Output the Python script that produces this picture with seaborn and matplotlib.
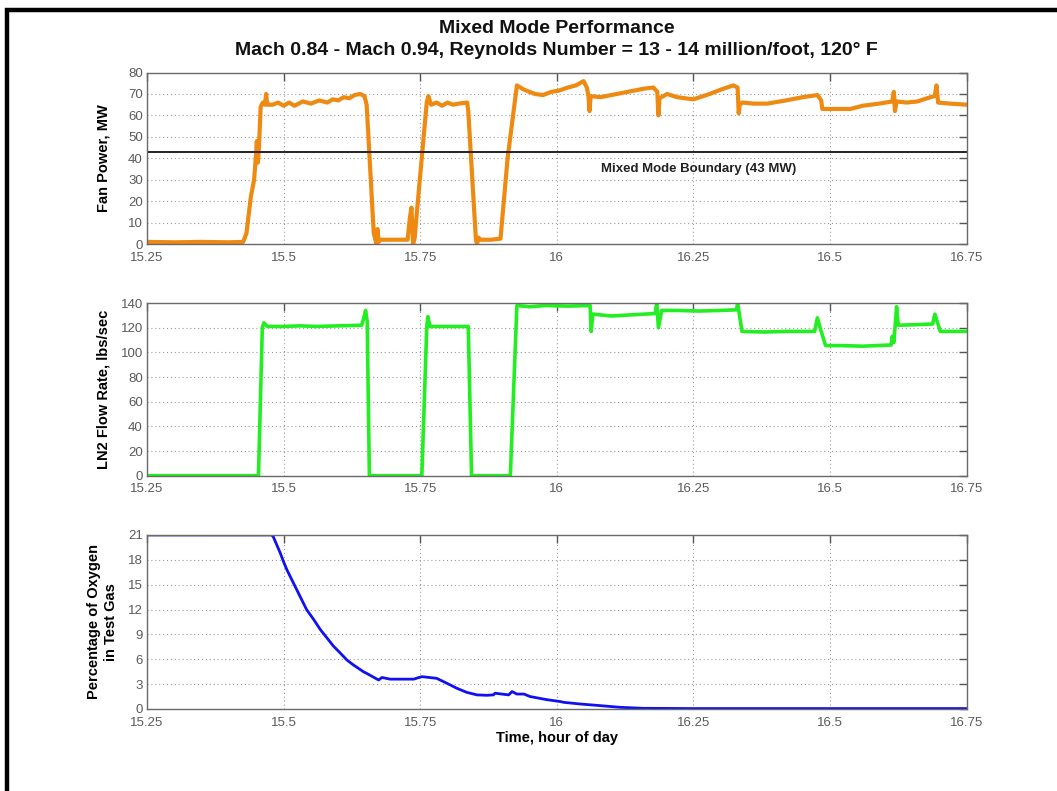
import numpy as np
import pandas as pd
import matplotlib
matplotlib.use("Agg")
import matplotlib.pyplot as plt
from matplotlib.lines import Line2D
import seaborn as sns

# ---------------- data ----------------
fan_time = [15.25, 15.30, 15.35, 15.40, 15.426, 15.432, 15.440, 15.446, 15.449, 15.451,
            15.453, 15.455, 15.458, 15.462, 15.466, 15.468, 15.470, 15.48, 15.49, 15.50,
            15.51, 15.52, 15.535, 15.55, 15.565, 15.58, 15.59, 15.60, 15.61, 15.62,
            15.63, 15.64, 15.648, 15.652, 15.665, 15.670, 15.672, 15.674, 15.678, 15.70,
            15.727, 15.731, 15.734, 15.737, 15.740, 15.744, 15.762, 15.765, 15.770, 15.78,
            15.79, 15.80, 15.81, 15.82, 15.836, 15.838, 15.852, 15.854, 15.857, 15.860,
            15.880, 15.897, 15.91, 15.920, 15.927, 15.94, 15.96, 15.975, 15.99, 16.003,
            16.02, 16.035, 16.049, 16.055, 16.058, 16.060, 16.062, 16.08, 16.10, 16.13,
            16.16, 16.177, 16.184, 16.186, 16.188, 16.202, 16.22, 16.25, 16.28, 16.30,
            16.323, 16.331, 16.333, 16.335, 16.34, 16.36, 16.385, 16.42, 16.45, 16.477,
            16.484, 16.486, 16.492, 16.51, 16.537, 16.56, 16.59, 16.614, 16.617, 16.619,
            16.622, 16.64, 16.66, 16.684, 16.692, 16.695, 16.698, 16.72, 16.75]
fan_mw = [1, 0.8, 1, 0.8, 1, 5, 22, 30, 40, 48,
          38, 46, 64, 66, 65, 70, 65, 65, 66, 64.5,
          66, 64.5, 66.5, 65.5, 67, 66, 67.5, 67, 68.5, 68,
          69.5, 70, 69, 65, 5, 0, 7, 1, 2, 2,
          2, 12, 17, 0, 3, 15, 66, 69, 65, 66,
          64.5, 66, 65, 65.5, 66, 62, 2, 0, 3, 2,
          2, 2.5, 40, 60, 74, 72, 70, 69.5, 71, 71.5,
          73, 74, 76, 73, 69, 62, 69, 68.5, 69.5, 71,
          72.5, 73, 71, 60, 68, 70, 68.5, 67.5, 70, 72,
          74, 73, 61, 65, 66, 65.5, 65.5, 67, 68.5, 69.5,
          67, 63, 63, 63, 63, 64.5, 65.5, 66.5, 71, 62,
          66.5, 66, 66.5, 68.5, 69, 74, 66, 65.5, 65]

ln2_time = [15.25, 15.454, 15.461, 15.464, 15.470, 15.50, 15.53, 15.56, 15.60, 15.643,
            15.648, 15.650, 15.653, 15.657, 15.753, 15.762, 15.764, 15.768, 15.80, 15.838,
            15.844, 15.915, 15.927, 15.95, 15.98, 16.02, 16.061, 16.063, 16.066, 16.10,
            16.14, 16.18, 16.183, 16.186, 16.192, 16.22, 16.26, 16.30, 16.329, 16.331,
            16.339, 16.38, 16.42, 16.472, 16.477, 16.482, 16.492, 16.52, 16.56, 16.612,
            16.614, 16.617, 16.622, 16.625, 16.66, 16.688, 16.692, 16.702, 16.75]
ln2_flow = [0, 0, 120, 124, 121, 121, 121.5, 121, 121.5, 122,
            130, 134, 125, 0, 0, 120, 129, 121, 121, 121,
            0, 0, 138, 137, 138, 137.5, 138, 117, 131, 129.5,
            130.5, 131.5, 140, 120, 134, 134, 133.5, 134, 134.5, 140,
            117, 116.5, 117, 117, 128, 120, 105.5, 105.5, 105, 106,
            113, 108, 137, 122, 122.5, 123, 131, 117, 117]

o2_time = [15.25, 15.478, 15.481, 15.4875, 15.494, 15.4997, 15.506, 15.518, 15.524, 15.536,
           15.542, 15.555, 15.567, 15.579, 15.591, 15.603, 15.616, 15.628, 15.646, 15.652,
           15.671, 15.674, 15.680, 15.695, 15.738, 15.753, 15.780, 15.799, 15.817, 15.8355,
           15.854, 15.872, 15.884, 15.887, 15.912, 15.918, 15.927, 15.940, 15.951, 15.982,
           16.006, 16.013, 16.043, 16.080, 16.116, 16.158, 16.25, 16.50, 16.75]
o2_pct = [21, 21, 20.8, 19.8, 18.8, 17.8, 16.8, 15.2, 14.4, 12.8,
          12.0, 10.8, 9.6, 8.6, 7.6, 6.8, 5.9, 5.3, 4.5, 4.3,
          3.6, 3.5, 3.8, 3.6, 3.6, 3.9, 3.7, 3.1, 2.5, 2.0,
          1.7, 1.65, 1.7, 1.9, 1.7, 2.1, 1.8, 1.8, 1.5, 1.12,
          0.9, 0.8, 0.6, 0.4, 0.2, 0.08, 0.05, 0.05, 0.05]

x_ticks = [15.25, 15.5, 15.75, 16, 16.25, 16.5, 16.75]
x_tick_labels = ["15.25", "15.5", "15.75", "16", "16.25", "16.5", "16.75"]
fan_yticks = [0, 10, 20, 30, 40, 50, 60, 70, 80]
ln2_yticks = [0, 20, 40, 60, 80, 100, 120, 140]
o2_yticks = [0, 3, 6, 9, 12, 15, 18, 21]
boundary_mw = 43

title1 = "Mixed Mode Performance"
title2 = "Mach 0.84 - Mach 0.94, Reynolds Number = 13 - 14 million/foot, 120\u00b0 F"

# ---------------- style ----------------
sns.set_style("white")
plt.rcParams["font.family"] = ["Liberation Sans", "DejaVu Sans"]

fig = plt.figure(figsize=(10.57, 7.91), dpi=100)

L, W = 0.1391, 0.7753
ax1 = fig.add_axes([L, 0.6915, W, 0.2168])
ax2 = fig.add_axes([L, 0.3986, W, 0.2183])
ax3 = fig.add_axes([L, 0.1037, W, 0.2200])

tick_col = "#5a5a5a"

def style(ax, yticks, ylim):
    ax.set_xlim(15.25, 16.75)
    ax.set_ylim(*ylim)
    ax.set_xticks(x_ticks)
    ax.set_xticklabels(x_tick_labels)
    ax.set_yticks(yticks)
    ax.grid(True, linestyle=(0, (1, 2.5)), color="#9a9a9a", linewidth=0.8)
    ax.tick_params(direction="in", length=6, width=1, top=True, right=True,
                   color="#555555", labelcolor=tick_col, labelsize=9.5, pad=3)
    ax.tick_params(axis="x", pad=5.5)
    for s in ax.spines.values():
        s.set_color("#6a6a6a")
        s.set_linewidth(1.0)
        s.set_visible(True)
    ax.set_xlabel("")

fan_df = pd.DataFrame({"t": fan_time, "v": fan_mw})
ln2_df = pd.DataFrame({"t": ln2_time, "v": ln2_flow})
o2_df = pd.DataFrame({"t": o2_time, "v": o2_pct})

sns.lineplot(data=fan_df, x="t", y="v", ax=ax1, color="#EE8A12", linewidth=3.0,
             estimator=None, sort=False)
ax1.axhline(boundary_mw, color="#222222", linewidth=1.4)
sns.lineplot(data=ln2_df, x="t", y="v", ax=ax2, color="#22EE22", linewidth=2.6,
             estimator=None, sort=False)
sns.lineplot(data=o2_df, x="t", y="v", ax=ax3, color="#1010F0", linewidth=2.0,
             estimator=None, sort=False)

style(ax1, fan_yticks, (0, 80))
style(ax2, ln2_yticks, (0, 140))
style(ax3, o2_yticks, (0, 21))

ax1.text(16.26, 35, "Mixed Mode Boundary (43 MW)", ha="center", va="center",
         fontsize=9.5, fontweight="bold", color="#222222")

lab_kw = dict(fontsize=10.5, fontweight="bold", color="black")
ax1.set_ylabel("Fan Power, MW", **lab_kw)
ax2.set_ylabel("LN2 Flow Rate, lbs/sec", **lab_kw)
ax3.set_ylabel("Percentage of Oxygen\nin Test Gas", linespacing=1.2, **lab_kw)
ax1.yaxis.set_label_coords(-0.044, 0.5)
ax2.yaxis.set_label_coords(-0.044, 0.5)
ax3.yaxis.set_label_coords(-0.036, 0.5)

fig.text(0.5265, 0.067, "Time, hour of day", ha="center", va="center", **lab_kw)
fig.text(0.5265, 0.9636, title1, ha="center", va="center", fontsize=14,
         fontweight="bold", color="#111111")
fig.text(0.5265, 0.9358, title2, ha="center", va="center", fontsize=14,
         fontweight="bold", color="#111111")

# outer frame (top and left edges of the original bordered figure)
fig.add_artist(Line2D([5 / 1057, 1.0], [1 - 10 / 791, 1 - 10 / 791],
                      transform=fig.transFigure, color="black", linewidth=3.2,
                      solid_capstyle="butt"))
fig.add_artist(Line2D([7 / 1057, 7 / 1057], [0.0, 1 - 8 / 791],
                      transform=fig.transFigure, color="black", linewidth=3.2,
                      solid_capstyle="butt"))

fig.savefig("out.png", dpi=100)
